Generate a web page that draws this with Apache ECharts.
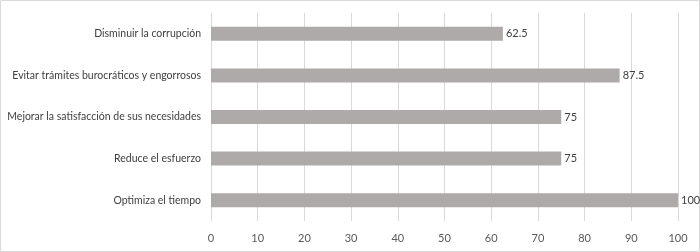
<!DOCTYPE html>
<html><head><meta charset="utf-8">
<script src="https://cdn.jsdelivr.net/npm/echarts@6/dist/echarts.min.js"></script>
<style>html,body{margin:0;padding:0;background:#fff}#c{width:700px;height:252px}</style>
</head><body><div id="c"></div>
<script>
const categories = ["Disminuir la corrupción","Evitar trámites burocráticos y engorrosos","Mejorar la satisfacción de sus necesidades","Reduce el esfuerzo","Optimiza el tiempo"];
const values = [62.5, 87.5, 75, 75, 100];
const xTicks = [0,10,20,30,40,50,60,70,80,90,100];

const chart = echarts.init(document.getElementById('c'), null, {renderer:'canvas'});
const font = "Lato, 'Open Sans', sans-serif";
chart.setOption({
  animation:false,
  graphic:[{type:'rect',shape:{x:0.5,y:0.5,width:699,height:251},style:{fill:'none',stroke:'#d9d9d9',lineWidth:1}}],
  grid:{left:211,right:22,top:13,bottom:31,containLabel:false,outerBoundsMode:'none'},
  xAxis:{type:'value',min:xTicks[0],max:xTicks[xTicks.length-1],interval:10,
    axisLine:{show:false},axisTick:{show:false},
    splitLine:{show:true,lineStyle:{color:'#d9d9d9',width:1}},
    axisLabel:{color:'#595959',fontSize:11,fontFamily:font,margin:12}},
  yAxis:{type:'category',data:categories,inverse:true,
    axisLine:{show:false},axisTick:{show:false},
    axisLabel:{color:'#404040',fontSize:10.5,fontFamily:font,margin:10}},
  series:[{type:'bar',data:values,barWidth:14,
    itemStyle:{color:'#aeaaa9'},
    label:{show:true,position:'right',distance:3,color:'#404040',fontSize:11,fontFamily:font}}]
});
</script></body></html>
